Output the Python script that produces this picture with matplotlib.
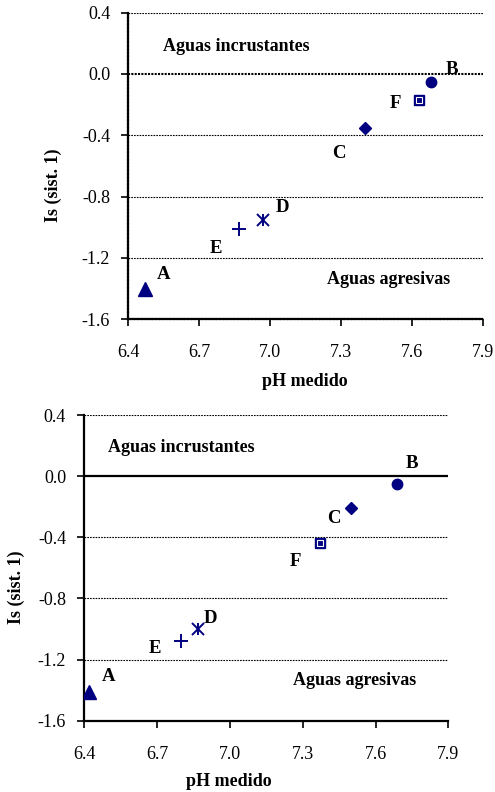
import matplotlib
matplotlib.use("Agg")
import matplotlib.pyplot as plt

# ---- data ----
muestras = ["A", "B", "C", "D", "E", "F"]
ph_1 = [6.47, 7.68, 7.40, 6.97, 6.87, 7.63]
is_1 = [-1.40, -0.05, -0.35, -0.95, -1.01, -0.17]
ph_2 = [6.42, 7.69, 7.50, 6.87, 6.80, 7.37]
is_2 = [-1.41, -0.05, -0.21, -1.00, -1.08, -0.44]
# where the letter of each sample sits
lab_x1 = [6.55, 7.77, 7.29, 7.05, 6.77, 7.53]
lab_y1 = [-1.31, 0.03, -0.52, -0.87, -1.14, -0.19]
lab_x2 = [6.50, 7.75, 7.43, 6.92, 6.69, 7.27]
lab_y2 = [-1.31, 0.08, -0.28, -0.93, -1.13, -0.56]

xticks = [6.4, 6.7, 7.0, 7.3, 7.6, 7.9]
yticks = [-1.6, -1.2, -0.8, -0.4, 0.0, 0.4]

navy = "#000080"
marcas = {"A": dict(marker="^", ms=9.5),
          "B": dict(marker="o", ms=7.5),
          "C": dict(marker="D", ms=6.5),
          "D": dict(marker="x", ms=9, mew=1.4),
          "E": dict(marker="+", ms=10, mew=1.4),
          "F": dict(marker="s", ms=7.5)}

plt.rcParams["font.family"] = ["Liberation Serif", "DejaVu Serif"]

fig = plt.figure(figsize=(4.95, 7.92), dpi=100)


def panel(ax, ph, iss, lx, ly, dotted_frame, xl, yl, txt_inc, txt_agr):
    for m, x, y in zip(muestras, ph, iss):
        kw = marcas[m]
        ax.plot([x], [y], linestyle="none", color=navy, markeredgecolor=navy, zorder=4, **kw)
        if m == "D":
            # excel star = x plus a vertical bar
            ax.plot([x], [y], linestyle="none", marker="|", ms=9, mew=1.4,
                    color=navy, zorder=4)
        if m == "F":
            ax.plot([x], [y], linestyle="none", marker="s", ms=4.5, mfc="none",
                    mec="white", mew=0.8, zorder=5)
    for m, x, y in zip(muestras, lx, ly):
        ax.text(x, y, m, fontsize=13.5, fontweight="bold", ha="center", va="center")

    ax.set_xlim(6.4, 7.9)
    ax.set_ylim(-1.6, 0.4)
    ax.set_xticks(xticks)
    ax.set_yticks(yticks)
    ax.set_xticklabels(["%.1f" % v for v in xticks])
    ax.set_yticklabels(["%.1f" % v for v in yticks])
    ax.tick_params(axis="both", direction="out", length=5, width=1.2, labelsize=13)
    ax.tick_params(axis="x", pad=13)
    ax.tick_params(axis="y", pad=8)

    for y in [0.4, -0.4, -0.8, -1.2]:
        ax.axhline(y, color="black", lw=0.8, linestyle=(0, (1.5, 1)), zorder=1)
    if dotted_frame:
        ax.axhline(0.0, color="black", lw=1.5, linestyle=(0, (1, 0.6)), zorder=1)
    else:
        ax.axhline(0.0, color="black", lw=1.6, zorder=1)

    ax.spines["top"].set_visible(False)
    ax.spines["right"].set_visible(False)
    for s in ["left", "bottom"]:
        ax.spines[s].set_linewidth(1.6)
        if dotted_frame:
            ax.spines[s].set_linestyle((0, (1, 0.6)))

    ax.text(txt_inc[0], txt_inc[1], "Aguas incrustantes", fontsize=13,
            fontweight="bold", ha="left", va="center")
    ax.text(txt_agr[0], txt_agr[1], "Aguas agresivas", fontsize=13,
            fontweight="bold", ha="left", va="center")

    ax.set_xlabel("pH medido", fontsize=13, fontweight="bold")
    ax.set_ylabel("Is (sist. 1)", fontsize=13, fontweight="bold")
    ax.xaxis.set_label_coords(xl[0], xl[1])
    ax.xaxis.label.set_verticalalignment("center")
    ax.yaxis.set_label_coords(yl[0], yl[1])
    ax.yaxis.label.set_verticalalignment("center")


ax1 = fig.add_axes([0.259, 0.597, 0.717, 0.387])
panel(ax1, ph_1, is_1, lab_x1, lab_y1, True, (0.498, -0.203), (-0.21, 0.437),
      (6.545, 0.18), (7.24, -1.34))

ax2 = fig.add_axes([0.170, 0.090, 0.736, 0.386])
panel(ax2, ph_2, is_2, lab_x2, lab_y2, False, (0.398, -0.198), (-0.185, 0.437),
      (6.50, 0.19), (7.26, -1.34))

fig.savefig("out.png", dpi=100)
